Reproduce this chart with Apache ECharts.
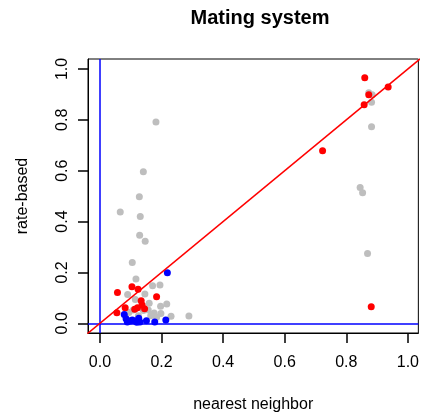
<!DOCTYPE html>
<html>
<head>
<meta charset="utf-8">
<script src="https://cdn.jsdelivr.net/npm/echarts@6/dist/echarts.min.js"></script>
<style>
  html, body { margin: 0; padding: 0; background: #fff; }
  #chart { width: 422px; height: 418px; }
</style>
</head>
<body>
<div id="chart"></div>
<script>
// points
const greyX = [0.182, 0.141, 0.128, 0.066, 0.131, 0.129, 0.147, 0.105, 0.117, 0.171, 0.195, 0.090,
  0.146, 0.115, 0.160, 0.197, 0.217, 0.231, 0.289, 0.176, 0.094, 0.108, 0.141, 0.157, 0.198,
  0.184, 0.165, 0.125, 0.873, 0.884, 0.882, 0.882, 0.845, 0.853, 0.869];
const greyY = [0.791, 0.596, 0.498, 0.438, 0.420, 0.346, 0.323, 0.239, 0.174, 0.148, 0.151, 0.113,
  0.115, 0.094, 0.079, 0.067, 0.076, 0.028, 0.029, 0.041, 0.043, 0.052, 0.050, 0.052, 0.039,
  0.024, 0.030, 0.030, 0.906, 0.898, 0.869, 0.773, 0.534, 0.513, 0.274];
const redX = [0.057, 0.104, 0.124, 0.184, 0.134, 0.137, 0.122, 0.113, 0.082, 0.055, 0.145,
  0.860, 0.936, 0.873, 0.858, 0.723, 0.881];
const redY = [0.121, 0.144, 0.134, 0.104, 0.089, 0.072, 0.061, 0.055, 0.061, 0.042, 0.057,
  0.965, 0.929, 0.898, 0.859, 0.678, 0.065];
const blueX = [0.219, 0.079, 0.085, 0.098, 0.114, 0.126, 0.130, 0.151, 0.178, 0.214, 0.089, 0.105, 0.120];
const blueY = [0.199, 0.035, 0.018, 0.009, 0.009, 0.020, 0.005, 0.010, 0.005, 0.013, 0.005, 0.013, 0.004];
const tickValues = [0, 0.2, 0.4, 0.6, 0.8, 1.0];
const diagonal = [-0.1, 1.1]; // y = x reference line

const font = "Liberation Sans, Arial, Helvetica, sans-serif";
const zip = (xs, ys) => xs.map((x, i) => [x, ys[i]]);

var myChart = echarts.init(document.getElementById("chart"));

var option = {
  animation: false,
  title: {
    text: "Mating system",
    left: 260,
    top: 8,
    padding: 0,
    textAlign: "center",
    textStyle: { fontFamily: font, fontSize: 20, fontWeight: "bold", color: "#000" },
  },
  grid: {
    left: 88,
    top: 59,
    right: 1.5,
    bottom: 85,
    show: true,
    borderColor: "#000",
  },
  xAxis: {
    type: "value",
    min: -0.0387,
    max: 1.034,
    name: "nearest neighbor",
    nameLocation: "middle",
    nameGap: 64,
    nameTextStyle: { fontFamily: font, fontSize: 16, color: "#000" },
    axisLine: { show: true, onZero: false, lineStyle: { color: "#000" } },
    splitLine: { show: false },
    axisTick: { show: true, length: 10, customValues: tickValues, lineStyle: { color: "#000", width: 1.5 } },
    axisLabel: {
      customValues: tickValues,
      margin: 22,
      fontFamily: font,
      fontSize: 16,
      color: "#000",
      formatter: (v) => v.toFixed(1),
    },
  },
  yAxis: {
    type: "value",
    min: -0.038,
    max: 1.039,
    name: "rate-based",
    nameLocation: "middle",
    nameGap: 57,
    nameTextStyle: { fontFamily: font, fontSize: 16, color: "#000" },
    axisLine: { show: true, onZero: false, lineStyle: { color: "#000" } },
    splitLine: { show: false },
    axisTick: { show: true, length: 10, customValues: tickValues, lineStyle: { color: "#000", width: 1.5 } },
    axisLabel: {
      customValues: tickValues,
      rotate: 90,
      margin: 17,
      fontFamily: font,
      fontSize: 16,
      color: "#000",
      formatter: (v) => v.toFixed(1),
    },
  },
  series: [
    {
      type: "scatter",
      data: zip(greyX, greyY),
      symbolSize: 7,
      itemStyle: { color: "#bebebe", opacity: 1 },
    },
    {
      type: "scatter",
      data: zip(redX, redY),
      symbolSize: 7,
      itemStyle: { color: "#ff0000", opacity: 1 },
    },
    {
      type: "scatter",
      data: zip(blueX, blueY),
      symbolSize: 7,
      itemStyle: { color: "#0000ff", opacity: 1 },
    },
    {
      type: "line",
      data: zip(diagonal, diagonal),
      showSymbol: false,
      clip: true,
      lineStyle: { color: "#ff0000", width: 1.5 },
      silent: true,
      z: 5,
      markLine: {
        silent: true,
        symbol: "none",
        label: { show: false },
        lineStyle: { color: "#0000ff", width: 1.5, type: "solid" },
        data: [{ xAxis: 0 }, { yAxis: 0 }],
      },
    },
  ],
};

myChart.setOption(option);
</script>
</body>
</html>
